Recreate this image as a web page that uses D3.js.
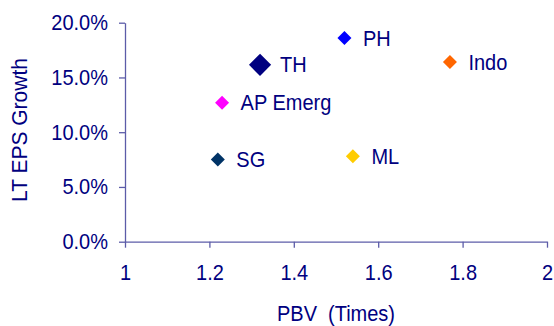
<!DOCTYPE html>
<html>
<head>
<meta charset="utf-8">
<script src="https://cdn.jsdelivr.net/npm/d3@7"></script>
<style>
  html, body { margin: 0; padding: 0; background: #ffffff; }
  svg { display: block; }
  text { font-family: "Liberation Sans", Arial, sans-serif; fill: #000080; }
</style>
</head>
<body>
<svg id="chart" width="554" height="326"></svg>
<script>
// Markets: price-to-book vs long-term EPS growth
const markets = ["PH", "TH", "Indo", "AP Emerg", "SG", "ML"];
const pbv = [1.52, 1.32, 1.77, 1.23, 1.22, 1.54];
const epsGrowth = [0.186, 0.1615, 0.164, 0.127, 0.075, 0.078];
const colors = ["#0000ff", "#000080", "#ff6600", "#ff00ff", "#003366", "#ffcc00"];
const markerSize = [98, 245, 98, 98, 98, 98];

const xTicks = [1, 1.2, 1.4, 1.6, 1.8, 2];
const xTickLabels = ["1", "1.2", "1.4", "1.6", "1.8", "2"];
const yTicks = [0, 0.05, 0.10, 0.15, 0.20];
const yTickLabels = ["0.0%", "5.0%", "10.0%", "15.0%", "20.0%"];

const xTitle = "PBV  (Times)";
const yTitle = "LT EPS Growth";

const svg = d3.select("#chart");
const margin = { left: 125, right: 7, top: 22.7, bottom: 84.3 };
const W = 554, H = 326;

const x = d3.scaleLinear().domain([1, 2]).range([margin.left, W - margin.right]);
const y = d3.scaleLinear().domain([0, 0.2]).range([H - margin.bottom, margin.top]);

const axisColor = "#5c5ca8";
const fontSize = 20;
const stretch = 1.08; // glyphs are slightly taller than wide

// X axis
const gx = svg.append("g")
  .attr("transform", `translate(0,${y(0)})`)
  .call(d3.axisBottom(x)
    .tickValues(xTicks)
    .tickFormat((d, i) => xTickLabels[i])
    .tickSizeInner(6).tickSizeOuter(0));

// Y axis
const gy = svg.append("g")
  .attr("transform", `translate(${x(1)},0)`)
  .call(d3.axisLeft(y)
    .tickValues(yTicks)
    .tickFormat((d, i) => yTickLabels[i])
    .tickSizeInner(6).tickSizeOuter(0));

[gx, gy].forEach(g => {
  g.selectAll(".domain").attr("stroke", axisColor).attr("stroke-width", 1.3);
  g.selectAll(".tick line").attr("stroke", axisColor).attr("stroke-width", 1.3);
  g.selectAll(".tick text")
    .attr("fill", "#000080")
    .style("font-size", fontSize + "px")
    .style("font-family", "'Liberation Sans', Arial, sans-serif");
});
// baseline placement with a slight vertical stretch
gx.selectAll(".tick text")
  .attr("y", null).attr("dy", null)
  .attr("transform", `translate(0,38) scale(1,${stretch})`);
gy.selectAll(".tick text")
  .attr("x", null).attr("dy", null)
  .attr("transform", `translate(-17,7) scale(1,${stretch})`);

// Axis titles
svg.append("text")
  .attr("transform", `translate(${(x(1) + x(2)) / 2},321) scale(1,${stretch})`)
  .attr("text-anchor", "middle")
  .style("font-size", fontSize + "px")
  .style("white-space", "pre")
  .text(xTitle);

svg.append("text")
  .attr("transform", `translate(26.5,130) rotate(-90) scale(1,${stretch})`)
  .attr("text-anchor", "middle")
  .style("font-size", "21px")
  .text(yTitle);

// Points
const data = markets.map((m, i) => ({
  name: m, x: pbv[i], y: epsGrowth[i], color: colors[i], size: markerSize[i]
}));

const pts = svg.append("g").selectAll("g").data(data).join("g")
  .attr("transform", d => `translate(${x(d.x)},${y(d.y)})`);

pts.append("path")
  .attr("d", d => d3.symbol(d3.symbolSquare, d.size)())
  .attr("transform", "rotate(45)")
  .attr("fill", d => d.color);

pts.append("text")
  .attr("transform", d => `translate(${d.size > 100 ? 20 : 18.5},7.5) scale(1,${stretch})`)
  .style("font-size", fontSize + "px")
  .text(d => d.name);
</script>
</body>
</html>
